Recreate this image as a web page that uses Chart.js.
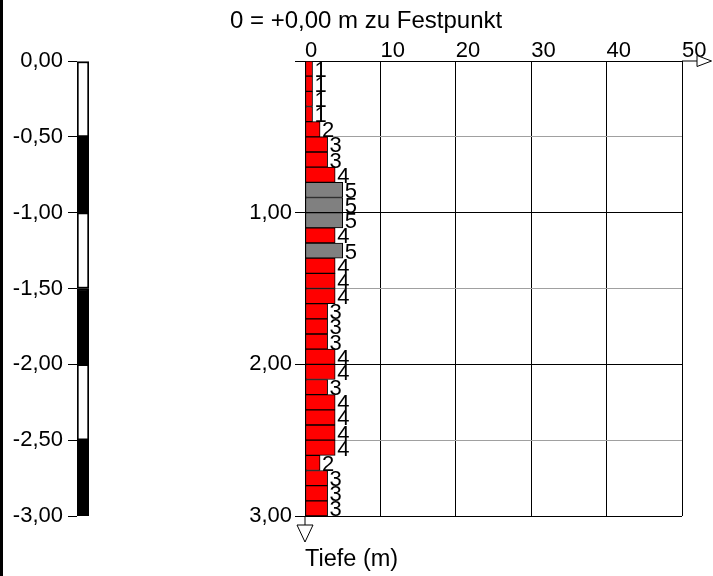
<!DOCTYPE html>
<html lang="de">
<head>
<meta charset="utf-8">
<title>Rammsondierung</title>
<script src="https://cdn.jsdelivr.net/npm/chart.js@4/dist/chart.umd.min.js"></script>
<style>
    html, body { margin: 0; padding: 0; background: #fff; }
    body { width: 713px; height: 576px; position: relative; overflow: hidden; }
    #edge { position: absolute; left: 0; top: 0; width: 3px; height: 576px; background: #000; }
    #scaleChart { position: absolute; left: 0; top: 0; }
    #blowChart { position: absolute; left: 230px; top: 0; }
</style>
</head>
<body>
<div id="edge"></div>
<canvas id="scaleChart" width="90" height="576"></canvas>
<canvas id="blowChart" width="483" height="576"></canvas>
<script>
// Tiefenstufen (Unterkante je 10 cm)
const depthLabels = [
    '0,1', '0,2', '0,3', '0,4', '0,5', '0,6', '0,7', '0,8', '0,9', '1,0',
    '1,1', '1,2', '1,3', '1,4', '1,5', '1,6', '1,7', '1,8', '1,9', '2,0',
    '2,1', '2,2', '2,3', '2,4', '2,5', '2,6', '2,7', '2,8', '2,9', '3,0',
];
// Schlagzahlen je 10 cm
const blows = [
    1, 1, 1, 1, 2, 3, 3, 4, 5, 5,
    5, 4, 5, 4, 4, 4, 3, 3, 3, 4,
    4, 3, 4, 4, 4, 4, 2, 3, 3, 3,
];
// Höhenmaßstab links (von, bis)
const scaleSegments = [[0, -0.5], [-0.5, -1], [-1, -1.5], [-1.5, -2], [-2, -2.5], [-2.5, -3]];
const scaleMin = -3;
const scaleMax = 0;
const depthMin = 0;
const depthMax = 3;
const blowMin = 0;
const blowMax = 50;
const titleText = '0 = +0,00 m zu Festpunkt';
const depthTitle = 'Tiefe (m)';

const FONT = "Arial, 'Liberation Sans', sans-serif";

const main = () => {
    Chart.defaults.font.family = FONT;
    Chart.defaults.color = '#000';

    createScaleChart();
    createBlowChart();
};

/**
 * Formatiert einen Wert mit Dezimalkomma.
 * @param {number} value
 */
const formatMeter = (value) => {
    return Number(value).toFixed(2).replace('.', ',');
};

/**
 * Schreibt die Schlagzahl rechts neben jeden Balken.
 */
const barValueLabels = {
    id: 'barValueLabels',
    afterDatasetsDraw: (chart) => {
        const ctx = chart.ctx;
        const meta = chart.getDatasetMeta(0);

        ctx.save();
        ctx.font = '22px ' + FONT;
        ctx.fillStyle = '#000';
        ctx.textAlign = 'left';
        ctx.textBaseline = 'middle';
        meta.data.forEach((bar, i) => {
            ctx.fillText(String(blows[i]), bar.x + 2, bar.y + 2);
        });
        ctx.restore();
    },
};

/**
 * Zeichnet die Pfeile an den Achsenenden.
 */
const axisArrows = {
    id: 'axisArrows',
    afterDraw: (chart) => {
        const ctx = chart.ctx;
        const area = chart.chartArea;
        const xEnd = chart.scales.x.getPixelForValue(blowMax);
        const yEnd = chart.scales.depth.getPixelForValue(depthMax);

        ctx.save();
        ctx.strokeStyle = '#000';
        ctx.fillStyle = '#fff';
        ctx.lineWidth = 1;

        // rechts
        ctx.beginPath();
        ctx.moveTo(xEnd, area.top);
        ctx.lineTo(xEnd + 15, area.top);
        ctx.stroke();
        ctx.beginPath();
        ctx.moveTo(xEnd + 15, area.top - 5.5);
        ctx.lineTo(xEnd + 29.5, area.top);
        ctx.lineTo(xEnd + 15, area.top + 5.5);
        ctx.closePath();
        ctx.fill();
        ctx.stroke();

        // unten
        ctx.beginPath();
        ctx.moveTo(area.left, yEnd);
        ctx.lineTo(area.left, yEnd + 9);
        ctx.stroke();
        ctx.beginPath();
        ctx.moveTo(area.left - 8, yEnd + 9);
        ctx.lineTo(area.left + 8, yEnd + 9);
        ctx.lineTo(area.left, yEnd + 26);
        ctx.closePath();
        ctx.fill();
        ctx.stroke();

        ctx.restore();
    },
};

/**
 * Erzeugt den Höhenmaßstab links.
 */
const createScaleChart = () => {
    const datasets = scaleSegments.map((segment, i) => ({
        data: [segment],
        backgroundColor: i % 2 === 0 ? '#fff' : '#000',
        borderColor: '#000',
        borderWidth: 2,
        borderSkipped: false,
        barPercentage: 1,
        categoryPercentage: 1,
        grouped: false,
    }));

    const config = {
        type: 'bar',
        data: {
            labels: [''],
            datasets: datasets,
        },
        options: {
            responsive: false,
            animation: false,
            layout: { padding: { top: 61, bottom: 60, left: 0, right: 1 } },
            plugins: { legend: { display: false }, tooltip: { enabled: false } },
            scales: {
                x: { display: false },
                y: {
                    min: scaleMin,
                    max: scaleMax,
                    ticks: { stepSize: 0.5, padding: 5, font: { size: 22 }, callback: formatMeter },
                    grid: { drawOnChartArea: false, tickLength: 9, tickColor: '#000' },
                    border: { display: false },
                    afterFit: (scale) => { scale.width = 77; },
                },
            },
        },
    };

    return new Chart(document.getElementById('scaleChart'), config);
};

/**
 * Erzeugt das Rammdiagramm.
 */
const createBlowChart = () => {
    const isWhole = (ctx) => ctx.tick && Number.isInteger(ctx.tick.value);

    const config = {
        type: 'bar',
        data: {
            labels: depthLabels,
            datasets: [
                {
                    data: blows,
                    backgroundColor: blows.map((v) => (v >= 5 ? '#808080' : '#ff0000')),
                    borderColor: '#000',
                    borderWidth: 1,
                    borderSkipped: false,
                    barPercentage: 1,
                    categoryPercentage: 1,
                    xAxisID: 'x',
                    yAxisID: 'y',
                },
            ],
        },
        options: {
            indexAxis: 'y',
            responsive: false,
            animation: false,
            layout: { padding: { top: 0, bottom: 0, left: 0, right: 31 } },
            plugins: {
                legend: { display: false },
                tooltip: { enabled: false },
                title: {
                    display: true,
                    text: titleText,
                    align: 'start',
                    color: '#000',
                    font: { size: 24, weight: 'normal' },
                    padding: { top: 7, bottom: 0 },
                },
            },
            scales: {
                x: {
                    type: 'linear',
                    position: 'top',
                    min: blowMin,
                    max: blowMax,
                    ticks: { stepSize: 10, align: 'start', padding: -3, font: { size: 22 } },
                    grid: { color: '#000', drawTicks: false },
                    border: { color: '#000' },
                    afterFit: (scale) => { scale.height = 25.2; },
                },
                x2: {
                    type: 'linear',
                    axis: 'x',
                    position: 'bottom',
                    min: blowMin,
                    max: blowMax,
                    ticks: { display: false },
                    grid: { display: false },
                    border: { display: false },
                    title: {
                        display: true,
                        text: depthTitle,
                        align: 'start',
                        font: { size: 23.5 },
                        padding: { top: 0, bottom: 2 },
                    },
                    afterFit: (scale) => { scale.height = 60; },
                },
                y: {
                    type: 'category',
                    display: false,
                    offset: true,
                },
                depth: {
                    type: 'linear',
                    axis: 'y',
                    position: 'left',
                    reverse: true,
                    offset: false,
                    min: depthMin,
                    max: depthMax,
                    ticks: {
                        stepSize: 0.5,
                        padding: 3,
                        font: { size: 22 },
                        callback: (v) => (Number.isInteger(v) && v > 0 ? formatMeter(v) : ''),
                    },
                    grid: {
                        offset: false,
                        color: (ctx) => (isWhole(ctx) ? '#000' : '#a0a0a0'),
                        tickColor: (ctx) => (isWhole(ctx) ? '#000' : 'rgba(0,0,0,0)'),
                        tickLength: 10,
                    },
                    border: { color: '#000' },
                    afterFit: (scale) => { scale.width = 75; },
                },
            },
        },
        plugins: [barValueLabels, axisArrows],
    };

    return new Chart(document.getElementById('blowChart'), config);
};

main();
</script>
</body>
</html>
